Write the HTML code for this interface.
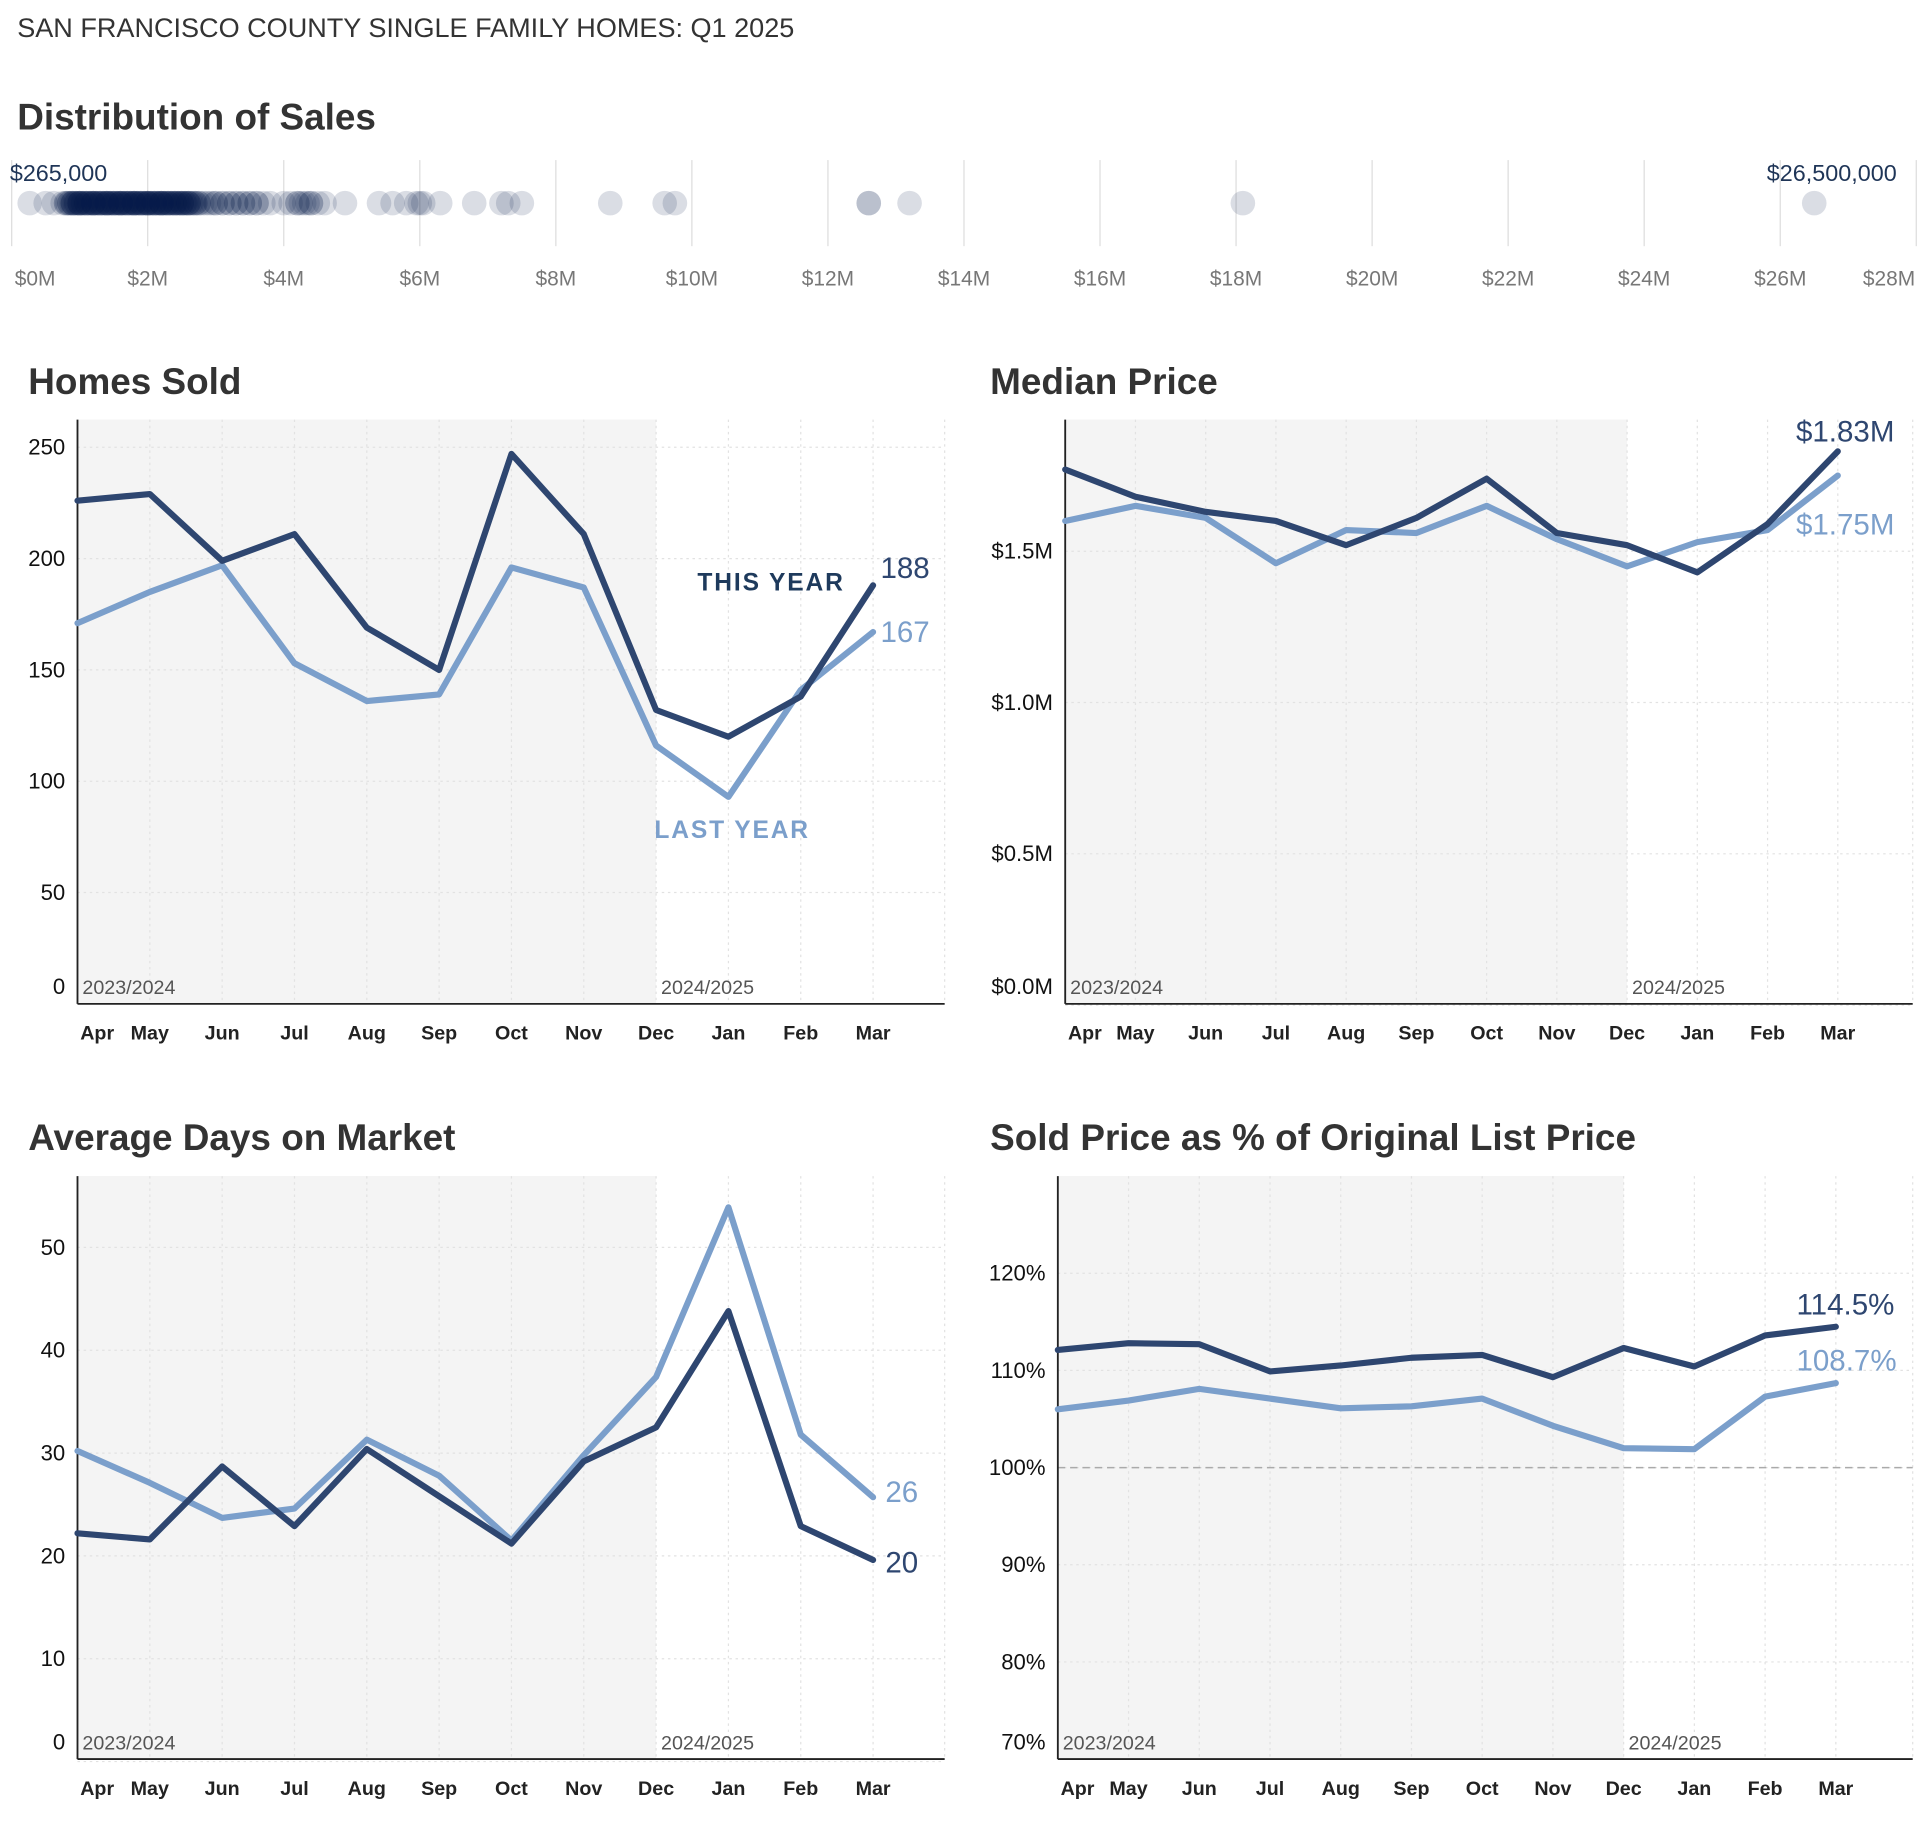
<!DOCTYPE html>
<html><head><meta charset="utf-8"><style>
html,body{margin:0;padding:0;background:#fff;}
svg{display:block;font-family:"Liberation Sans",sans-serif;}
</style></head><body>
<svg id="root" width="1925" height="1822" viewBox="0 0 1565 1481">
<text x="14" y="30" font-size="22" fill="#333" font-weight="300">SAN FRANCISCO COUNTY SINGLE FAMILY HOMES: Q1 2025</text>
<text x="14" y="105" font-size="30" font-weight="bold" fill="#333">Distribution of Sales</text>
<g id="strip"></g>
<text x="8" y="147" font-size="19" fill="#1f3557">$265,000</text>
<text x="1542" y="147" font-size="19" fill="#1f3557" text-anchor="end">$26,500,000</text>
<g id="c1"></g>
<g id="c2"></g>
<g id="c3"></g>
<g id="c4"></g>
</svg>
<script>
const NS="http://www.w3.org/2000/svg";
const months=["Apr","May","Jun","Jul","Aug","Sep","Oct","Nov","Dec","Jan","Feb","Mar"];
const saleValues=[0.265,0.5,0.62,0.75,0.8,0.85,0.9,0.95,1.0,1.05,1.1,1.15,1.2,1.25,1.3,1.35,1.4,1.45,1.5,1.55,1.6,1.65,1.7,1.75,1.8,1.85,1.9,1.95,2.0,2.05,2.1,2.15,2.2,2.25,2.3,2.35,2.4,2.45,2.5,2.55,2.6,2.65,2.7,2.75,0.8,0.9,1.0,1.1,1.2,1.3,1.4,1.5,1.6,1.7,1.8,1.9,2.0,2.1,2.2,2.3,2.4,2.5,2.6,0.85,1.05,1.25,1.45,1.65,1.85,2.05,2.25,2.45,1.0,1.2,1.4,1.6,1.8,2.0,2.2,
0.82,0.88,0.93,0.98,1.03,1.08,1.13,1.18,1.23,1.28,1.33,1.38,1.43,1.48,1.53,1.58,1.63,1.68,1.73,1.78,1.83,1.88,1.93,1.98,2.03,2.08,2.13,2.18,2.23,2.28,2.33,2.38,2.43,2.48,2.53,2.58,2.63,2.68,
0.9,1.0,1.1,1.2,1.3,1.4,1.5,1.6,1.7,1.8,1.9,2.0,2.1,2.2,2.3,2.4,2.5,2.6,2.7,2.8,2.85,
0.95,1.15,1.35,1.55,1.75,1.95,2.15,2.35,2.55,2.75,
2.9,2.95,3.0,3.1,3.2,3.3,3.4,3.5,3.6,3.7,3.8,3.1,3.3,3.5,3.0,3.2,3.4,3.6,4.0,4.1,4.2,4.3,4.4,4.5,4.6,4.25,4.35,4.2,4.4,4.9,5.4,5.6,5.8,5.95,6.0,6.05,6.3,6.8,7.2,7.3,7.5,8.8,9.6,9.75,12.6,12.6,13.2,18.1,26.5];
const stripTicks=[0,2,4,6,8,10,12,14,16,18,20,22,24,26,28];
const hsThis=[226,229,199,211,169,150,247,211,132,120,138,188];
const hsLast=[171,185,197,153,136,139,196,187,116,93,141,167];
const hsTicks=[0,50,100,150,200,250];
const mpThis=[1.77,1.68,1.63,1.60,1.52,1.61,1.74,1.56,1.52,1.43,1.59,1.83];
const mpLast=[1.60,1.65,1.61,1.46,1.57,1.56,1.65,1.54,1.45,1.53,1.57,1.75];
const mpTicks=[0,0.5,1.0,1.5];
const domThis=[22.2,21.6,28.7,22.9,30.4,25.8,21.2,29.2,32.5,43.8,22.9,19.6];
const domLast=[30.2,27.1,23.7,24.6,31.3,27.8,21.5,29.8,37.4,53.9,31.8,25.7];
const domTicks=[0,10,20,30,40,50];
const spThis=[112.1,112.8,112.7,109.9,110.5,111.3,111.6,109.3,112.3,110.4,113.6,114.5];
const spLast=[106.0,106.9,108.1,107.1,106.1,106.3,107.1,104.3,102.0,101.9,107.3,108.7];
const spTicks=[70,80,90,100,110,120];

function el(parent,tag,attrs,text){const e=document.createElementNS(NS,tag);for(const k in attrs)e.setAttribute(k,attrs[k]);if(text!==undefined)e.textContent=text;parent.appendChild(e);return e;}

const strip=document.getElementById('strip');
const sx=v=>9.5+v*55.3;
stripTicks.forEach((t,i)=>{
  const l=el(strip,'line',{x1:sx(t),x2:sx(t),y1:130,y2:200,stroke:'#ddd','stroke-width':1});
  
  
  const anchor=i===0?'start':(i===stripTicks.length-1?'end':'middle');
  const x=i===0?12:(i===stripTicks.length-1?1557:sx(t));
  const tx=el(strip,'text',{x:x,y:232,'font-size':17,fill:'#777','text-anchor':anchor},'$'+t+'M');
  
  
});
saleValues.forEach(v=>{
  const c=el(strip,'circle',{cx:sx(v),cy:165,r:10,fill:'#0a1c48','fill-opacity':0.15});
  
  
});

function chart(id,o){
  const g=document.getElementById(id);
  const x=i=>o.x0+i*o.dx;
  const t=el(g,'text',{x:o.tx,y:o.ty,'font-size':30,'font-weight':'bold',fill:'#333'},o.title);
  
  
  const bg=el(g,'rect',{x:o.x0,y:o.top,width:x(8)-o.x0,height:o.bottom-o.top,fill:'#f4f4f4'});
  
  
  months.forEach((m,i)=>{
    if(i>0){const gl=el(g,'line',{x1:x(i),x2:x(i),y1:o.top,y2:o.bottom,stroke:'#e2e2e2','stroke-dasharray':'2,3'});
    
    }
    const lx=i===0?x(0)+16:x(i);
    const ml=el(g,'text',{x:lx,y:o.bottom+29,'font-size':16,'font-weight':'bold',fill:'#222','text-anchor':'middle'},m);
    
    
  });
  const rv=el(g,'line',{x1:o.right,x2:o.right,y1:o.top,y2:o.bottom,stroke:'#e2e2e2','stroke-dasharray':'2,3'});
  
  
  o.ticks.forEach(tv=>{
    const yy=o.y(tv);
    const hl=el(g,'line',{x1:o.x0,x2:o.right,y1:yy,y2:yy,stroke:'#e2e2e2','stroke-dasharray':'2,3'});
    
    
    const ly=Math.abs(yy-o.bottom)<3?o.bottom-8:yy+6;
    const tl=el(g,'text',{x:o.x0-10,y:ly,'font-size':18,fill:'#111','text-anchor':'end'},o.fmt(tv));
    
    
  });
  if(o.ref!==undefined){const rl=el(g,'line',{x1:o.x0,x2:o.right,y1:o.y(o.ref),y2:o.y(o.ref),stroke:'#aaa','stroke-dasharray':'6,4','stroke-width':1.2});
    
    }
  const ax=el(g,'line',{x1:o.x0,x2:o.x0,y1:o.top,y2:o.bottom,stroke:'#222','stroke-width':1.5});
  
  
  const bx=el(g,'line',{x1:o.x0,x2:o.right,y1:o.bottom,y2:o.bottom,stroke:'#222','stroke-width':1.5});
  
  
  const y1=el(g,'text',{x:o.x0+4,y:o.bottom-8,'font-size':16,fill:'#555'},'2023/2024');
  
  
  const y2=el(g,'text',{x:x(8)+4,y:o.bottom-8,'font-size':16,fill:'#555'},'2024/2025');
  
  
  const path=arr=>arr.map((v,i)=>(i?'L':'M')+x(i).toFixed(1)+','+o.y(v).toFixed(1)).join(' ');
  const pl=el(g,'path',{d:path(o.last),fill:'none',stroke:'#7b9fcb','stroke-width':5,'stroke-linejoin':'round','stroke-linecap':'round'});
  
  
  const pt=el(g,'path',{d:path(o.cur),fill:'none',stroke:'#2e4670','stroke-width':5,'stroke-linejoin':'round','stroke-linecap':'round'});
  
  
  const n=o.cur.length-1;
  const la=el(g,'text',{x:x(n)+o.lx,y:o.y(o.cur[n])+o.cdy,'font-size':24,fill:'#2e4670'},o.fmtEnd(o.cur[n]));
  
  
  const lb=el(g,'text',{x:x(n)+o.lx,y:o.y(o.last[n])+o.ldy,'font-size':24,fill:'#7b9fcb'},o.fmtEnd(o.last[n]));
  
  
  return g;
}
const g1=chart('c1',{title:'Homes Sold',tx:23,ty:320,x0:63,dx:58.8,right:768,top:341,bottom:816,y:v=>816-v*1.81,ticks:hsTicks,fmt:v=>String(v),cur:hsThis,last:hsLast,lx:6,cdy:-6,ldy:8,fmtEnd:v=>String(v)});
const ty=el(g1,'text',{x:567,y:480,'font-size':20,'font-weight':'bold',fill:'#1e3a5c','letter-spacing':1.5},'THIS YEAR');


const lyr=el(g1,'text',{x:532,y:681,'font-size':20,'font-weight':'bold',fill:'#7b9fcb','letter-spacing':1.5},'LAST YEAR');


chart('c2',{title:'Median Price',tx:805,ty:320,x0:866,dx:57.1,right:1555,top:341,bottom:816,y:v=>817-v*246,ticks:mpTicks,fmt:v=>'$'+v.toFixed(1)+'M',cur:mpThis,last:mpLast,lx:-34,cdy:-8,ldy:48,fmtEnd:v=>'$'+v.toFixed(2)+'M'});
chart('c3',{title:'Average Days on Market',tx:23,ty:935,x0:63,dx:58.8,right:768,top:956,bottom:1430,y:v=>1432-v*8.36,ticks:domTicks,fmt:v=>String(v),cur:domThis,last:domLast,lx:10,cdy:10,ldy:4,fmtEnd:v=>String(Math.round(v))});
chart('c4',{title:'Sold Price as % of Original List Price',tx:805,ty:935,x0:860,dx:57.5,right:1555,top:956,bottom:1430,y:v=>1193-(v-100)*7.9,ticks:spTicks,fmt:v=>v+'%',cur:spThis,last:spLast,lx:-32,cdy:-10,ldy:-10,ref:100,fmtEnd:v=>v.toFixed(1)+'%'});
</script>
</body></html>
